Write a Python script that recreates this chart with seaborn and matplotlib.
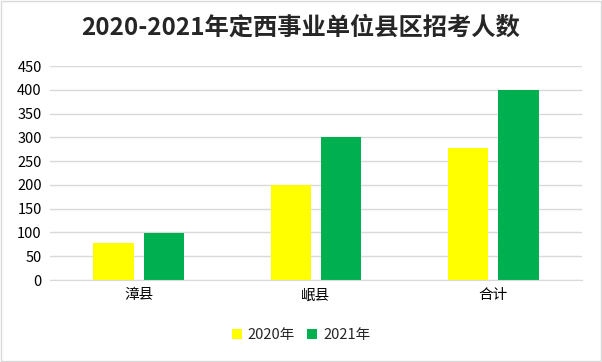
import numpy as np
import pandas as pd
import matplotlib
matplotlib.use("Agg")
import matplotlib.pyplot as plt
import seaborn as sns

# data
counties = ["漳县", "岷县", "合计"]
years = ["2020年", "2021年"]
vals_2020 = [77, 200, 277]
vals_2021 = [99, 300, 399]
yticks = [0, 50, 100, 150, 200, 250, 300, 350, 400, 450]

df = pd.DataFrame({
    "county": counties * 2,
    "year": [years[0]] * 3 + [years[1]] * 3,
    "num": vals_2020 + vals_2021,
})

sns.set_style("white")
plt.rcParams['font.family'] = ['Noto Sans CJK SC', 'DejaVu Sans']

fig = plt.figure(figsize=(6.02, 3.62), dpi=100)
ax = fig.add_axes([50 / 602, 1 - 280 / 362, 532 / 602, 214 / 362])

sns.barplot(data=df, x="county", y="num", hue="year", ax=ax,
            palette=["#ffff00", "#00b050"], width=0.57, gap=0.2,
            saturation=1, linewidth=0, legend=True)

ax.set_ylim(0, 450)
ax.set_xlim(-0.5, 2.5)
ax.set_yticks(yticks)
ax.yaxis.grid(True, color="#d9d9d9", linewidth=1)
ax.set_axisbelow(True)
for s in ["left", "right", "top"]:
    ax.spines[s].set_visible(False)
ax.spines["bottom"].set_color("#d9d9d9")
ax.tick_params(axis="both", length=0, labelsize=10.5, colors="black", pad=6)
ax.set_xlabel("")
ax.set_ylabel("")

ax.legend(loc="center", bbox_to_anchor=(0.5, 1 - 335 / 362), bbox_transform=fig.transFigure,
          ncol=2, frameon=False, fontsize=10.5, handlelength=0.7, handleheight=0.7,
          handletextpad=0.4, columnspacing=0.8)

fig.text(0.5, 1 - 28 / 362, "2020-2021年定西事业单位县区招考人数", ha="center", va="center",
         fontsize=17.5, fontweight="bold")

# light border around the whole chart
fig.patches.append(plt.Rectangle((0.002, 0.003), 0.996, 0.994, transform=fig.transFigure,
                                 fill=False, edgecolor="#d9d9d9", linewidth=1))

fig.savefig("out.png", dpi=100)
